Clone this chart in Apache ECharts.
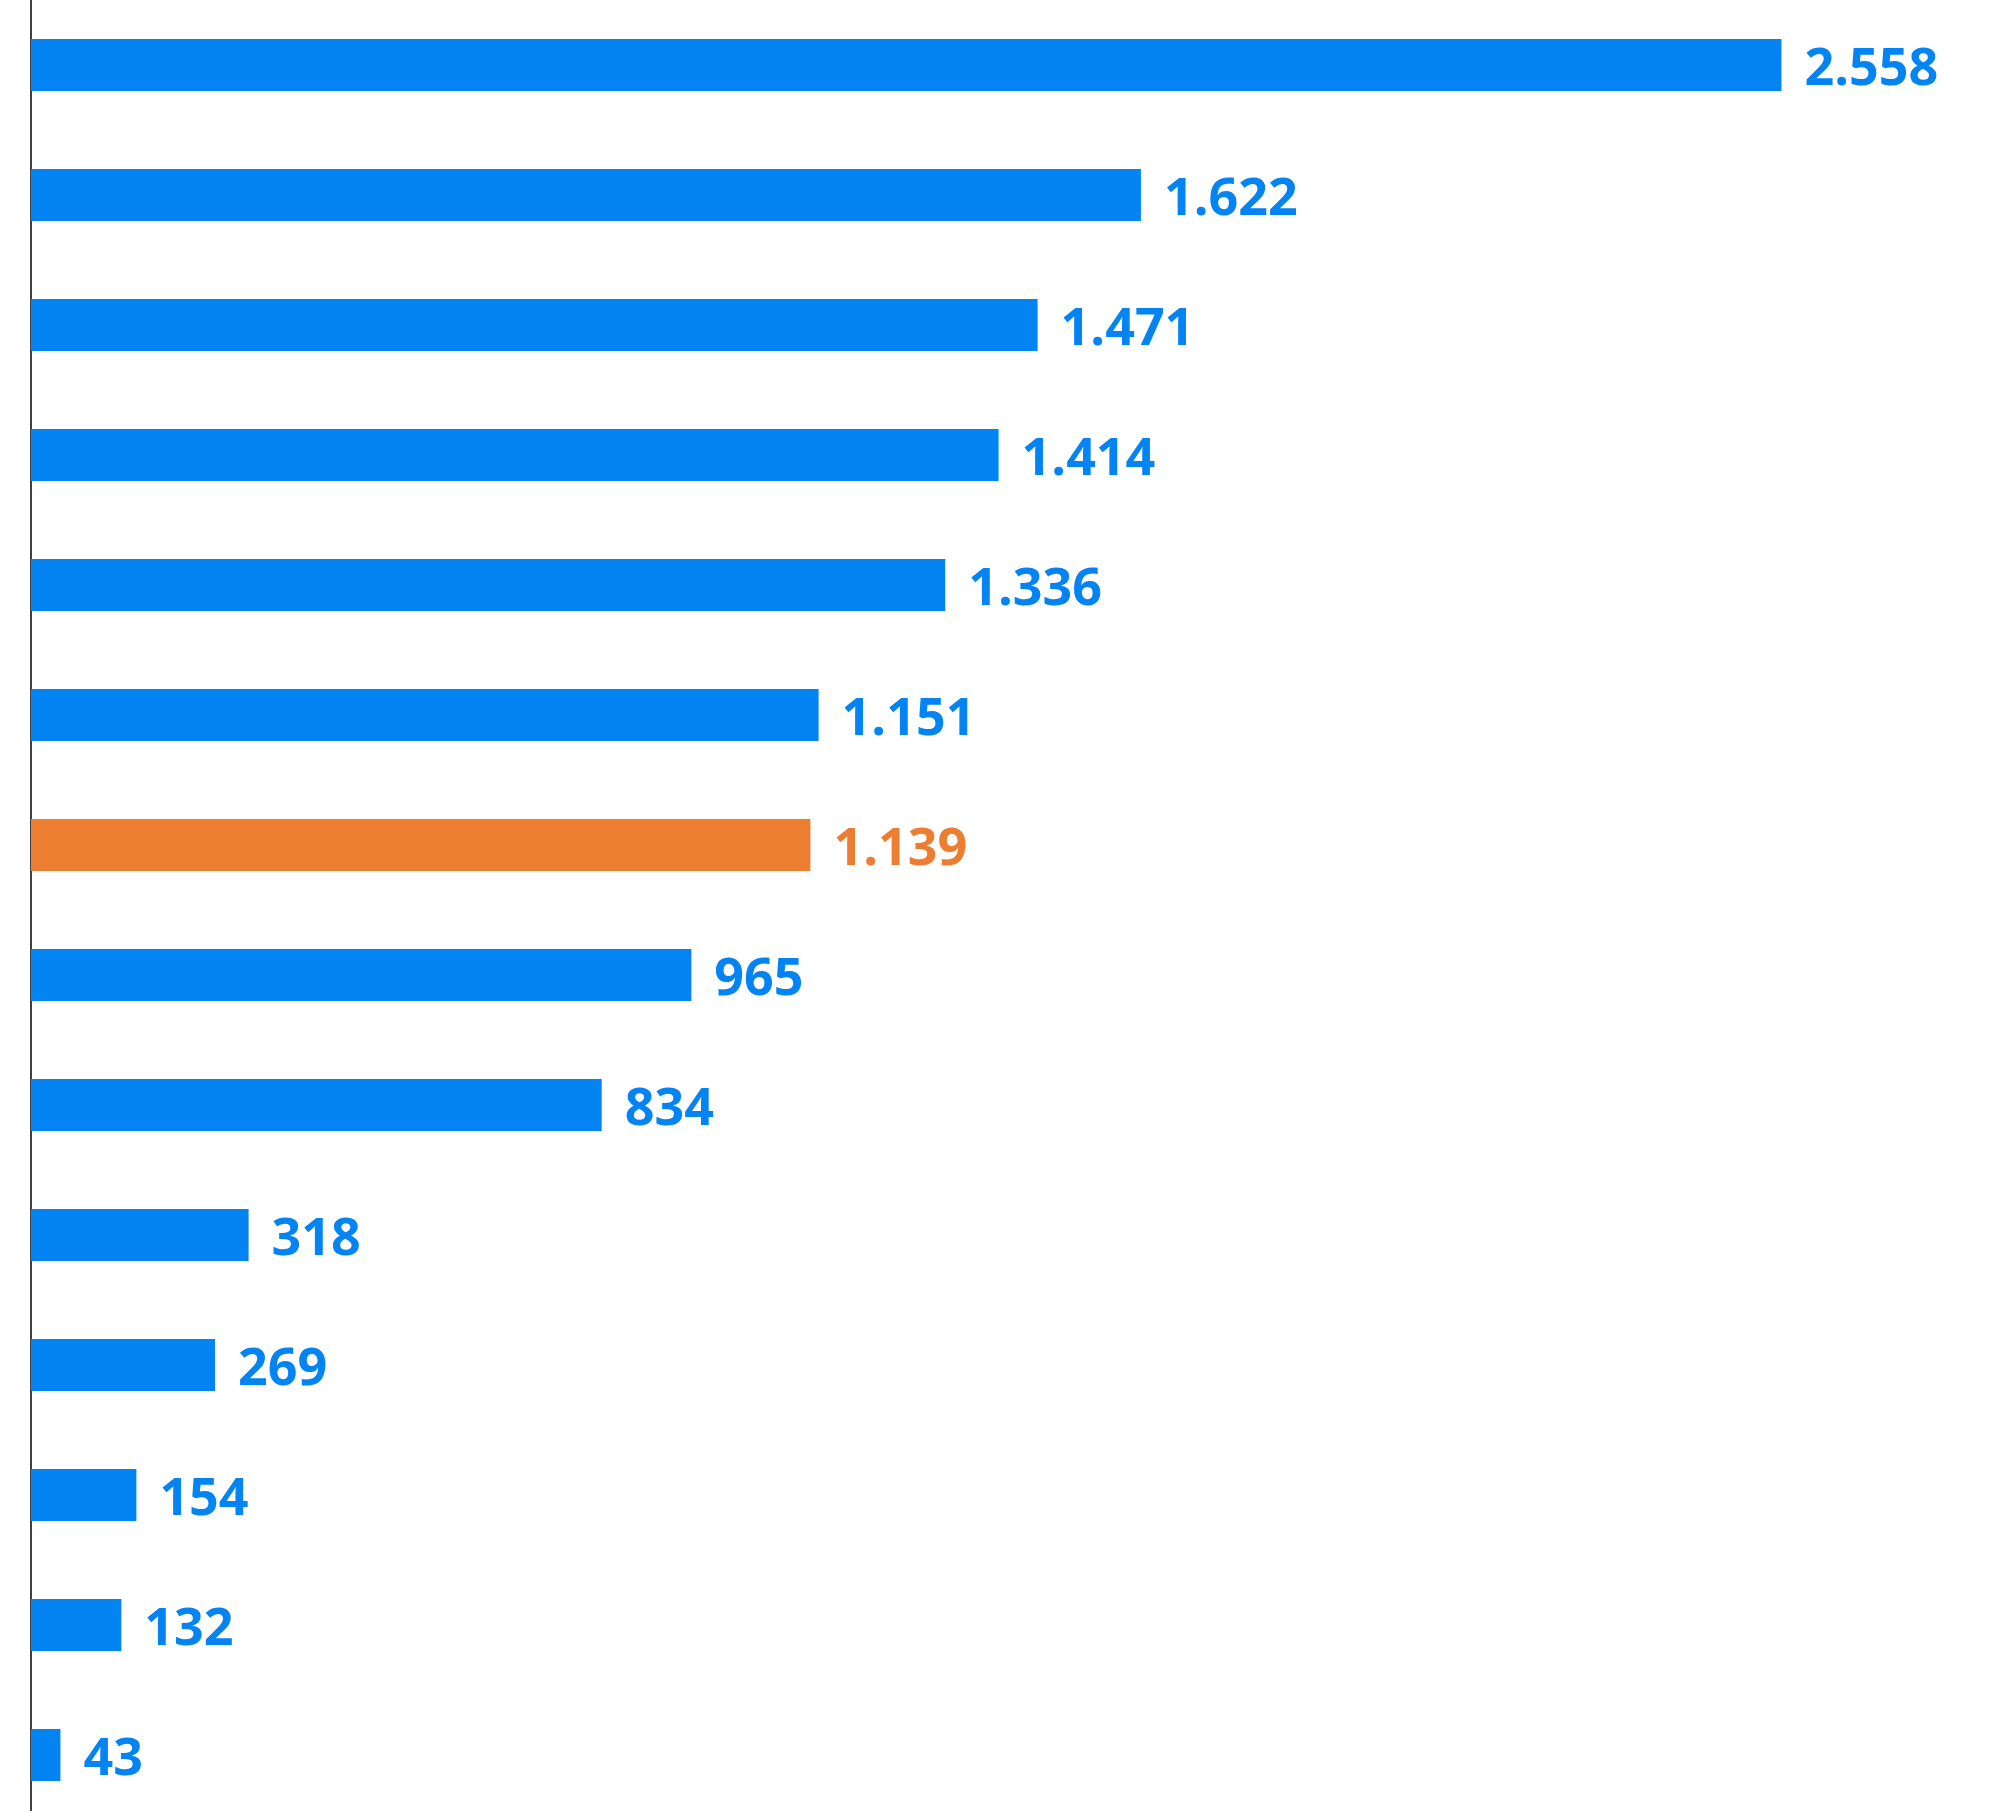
<!DOCTYPE html>
<html>
<head>
<meta charset="utf-8">
<script src="https://cdn.jsdelivr.net/npm/echarts@6/dist/echarts.min.js"></script>
<style>
html,body{margin:0;padding:0;background:#fff;}
#chart{width:2000px;height:1811px;}
</style>
</head>
<body>
<div id="chart"></div>
<script>
const categories = ['1','2','3','4','5','6','7','8','9','10','11','12','13','14'];
const values = [2558, 1622, 1471, 1414, 1336, 1151, 1139, 965, 834, 318, 269, 154, 132, 43];
const highlightIndex = 6;
const blue = '#0384F2';
const orange = '#ED7D31';

function fmt(v) {
  return String(v).replace(/\B(?=(\d{3})+(?!\d))/g, '.');
}

const chart = echarts.init(document.getElementById('chart'));
chart.setOption({
  animation: false,
  grid: { left: 31, top: 0, width: 1916, height: 1820, containLabel: false, outerBoundsMode: 'none' },
  xAxis: {
    type: 'value', min: 0, max: 2800,
    show: false
  },
  yAxis: {
    type: 'category', data: categories, inverse: true,
    axisLine: { show: true, lineStyle: { color: '#404040', width: 2 } },
    axisTick: { show: false },
    axisLabel: { show: false },
    splitLine: { show: false }
  },
  series: [{
    type: 'bar',
    barWidth: 52,
    data: values.map((v, i) => ({
      value: v,
      itemStyle: { color: i === highlightIndex ? orange : blue },
      label: { color: i === highlightIndex ? orange : blue }
    })),
    label: {
      show: true,
      position: 'right',
      distance: 23,
      offset: [0, 5],
      fontFamily: 'Open Sans',
      fontWeight: 'bold',
      fontSize: 52,
      formatter: p => fmt(p.value)
    }
  }]
});
</script>
</body>
</html>
